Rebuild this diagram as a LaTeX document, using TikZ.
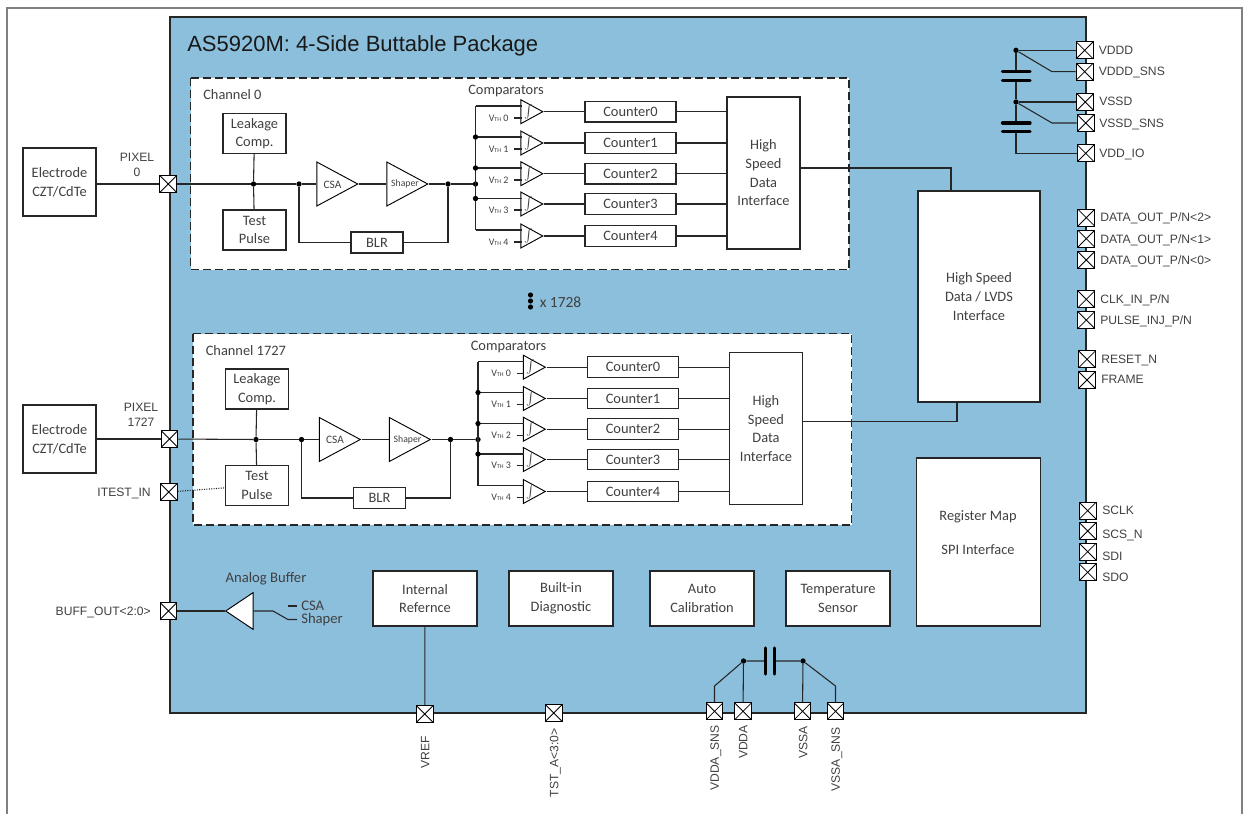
\documentclass[tikz,border=0pt]{standalone}
\usepackage{fontspec}
\usepackage{xcolor}
\setmainfont{Carlito}
\newfontfamily\arialfont{Liberation Sans}
\usetikzlibrary{positioning,calc,shapes.geometric}
\definecolor{ChipBlue}{HTML}{8BBFDC}
\definecolor{FrameGray}{HTML}{808080}
\definecolor{EdgeDark}{HTML}{262626}
\definecolor{LabelGray}{HTML}{404040}
\tikzset{
  wire/.style={EdgeDark,line width=0.8pt},
  whitebox/.style={draw=EdgeDark,fill=white,line width=0.85pt,align=center,inner sep=0pt,
        font=\fontsize{10.8}{14}\selectfont,text=LabelGray},
  padbox/.style={draw=black,fill=white,line width=0.85pt,minimum size=12.6pt,inner sep=0pt,
        path picture={\draw[line width=0.6pt] (path picture bounding box.north west) -- (path picture bounding box.south east)
        (path picture bounding box.north east) -- (path picture bounding box.south west);}},
  chanbox/.style={draw=EdgeDark,fill=white,dashed,dash pattern=on 6pt off 3pt,line width=0.85pt},
  ampshape/.style={isosceles triangle,isosceles triangle stretches,draw=black,fill=white,line width=0.7pt,
        inner sep=0pt,anchor=apex},
  jdot/.style={circle,fill=black,minimum size=4pt,inner sep=0pt},
  pinlabel/.style={font=\arialfont\fontsize{9.1}{11.3}\selectfont,text=LabelGray,inner sep=0pt,align=center},
  pinline/.style={font=\arialfont\fontsize{9.1}{11.3}\selectfont,text=LabelGray,inner sep=0pt,text height=6.5pt,text depth=0pt},
  blocktext/.style={font=\fontsize{10.8}{14}\selectfont,text=LabelGray,inner sep=0pt},
  buffertext/.style={font=\fontsize{11}{13}\selectfont,text=LabelGray,inner sep=0pt},
  platebar/.style={line width=2.4pt,line cap=round,black}
}
\newcommand{\vthtext}[1]{{\fontsize{7.5}{8}\selectfont V{\fontsize{4.5}{5}\selectfont TH} #1}}
\begin{document}
\begin{tikzpicture}[x=0.75pt,y=-0.75pt]
  \useasboundingbox (0,0) rectangle (1250,814);
  % outer frame and chip body
  \draw[FrameGray,line width=1.5pt] (7,814) -- (7,8) -- (1242,8) -- (1242,814);
  \draw[draw=EdgeDark,fill=ChipBlue,line width=0.9pt] (170,17) rectangle (1086,713);
  \node[font=\arialfont\fontsize{16.5}{18}\selectfont,text=black!90,anchor=west,inner sep=0pt] (title) at (187,45.5)
        {AS5920M: 4-Side Buttable Package};

  % the two channels
  \foreach \ch/\dx/\dy/\outy/\chname in {a/0/0/168/Channel 0,b/2.5/255.5/166/Channel 1727}{
    \begin{scope}[shift={(\dx,\dy)}]
      \draw[chanbox] (190.5,78) rectangle (849,269.5);
      \node[blocktext,anchor=west] (name\ch) at (203,95) {\chname};
      \node[whitebox,minimum width=47.25pt,minimum height=30pt] (leak\ch) at (254.5,133.5) {Leakage\\Comp.};
      \node[whitebox,minimum width=47.25pt,minimum height=30pt] (test\ch) at (254.5,230) {Test\\Pulse};
      \node[jdot] (jleak\ch) at (253.5,184) {};
      \node[jdot] (jblr\ch) at (299,184) {};
      \node[ampshape,minimum height=30.75pt,minimum width=33pt] (csa\ch) at (359,184) {};
      \node[blocktext,font=\fontsize{8.5}{10}\selectfont] (csatext\ch) at (332.5,184.5) {CSA};
      \node[ampshape,minimum height=30.75pt,minimum width=33pt] (shaper\ch) at (429,184) {};
      \node[blocktext,font=\fontsize{7.3}{9}\selectfont] (shapertext\ch) at (405,184) {Shaper};
      \node[jdot] (jout\ch) at (448,184) {};
      \node[jdot] (jbus\ch) at (475.5,184) {};
      \node[whitebox,minimum width=39pt,minimum height=15.75pt] (blr\ch) at (377,242.5) {BLR};
      \node[blocktext,anchor=west] (comp\ch) at (468,91) {Comparators};
      \node[whitebox,minimum width=54.75pt,minimum height=114pt] (hsdi\ch) at (763.5,173)
            {High\\Speed\\Data\\Interface};
      \coordinate (bustop\ch) at (475.5,106);
      \coordinate (busend\ch) at (475.5,230);
      \coordinate (hsout\ch) at (800,\outy);
      \draw[wire] (jleak\ch) -- (leak\ch);
      \draw[wire] (jleak\ch) -- (test\ch);
      \draw[wire] (jleak\ch) -- (jblr\ch) -- (csa\ch.lower side);
      \draw[wire] (csa\ch.apex) -- (shaper\ch.lower side);
      \draw[wire] (shaper\ch.apex) -- (jout\ch) -- (jbus\ch);
      \draw[wire] (jblr\ch) |- (blr\ch.west);
      \draw[wire] (blr\ch.east) -| (jout\ch);
      \draw[wire] (bustop\ch) -- (busend\ch);
      \foreach \i/\rowy/\ya/\yb in {0/111.7/106/118,1/143/137/149,2/173.7/168/180,3/204/198.5/210,4/236/230/242}{
        \coordinate (in\ch\i) at (521.5,\ya);
        \coordinate (ref\ch\i) at (521.5,\yb);
        \node[ampshape,minimum height=16.5pt,minimum width=18pt] (cmp\ch\i) at (544,\rowy) {};
        \node[blocktext,font=\fontsize{8.5}{10}\selectfont] (int\ch\i) at (528.5,\rowy) {$\int$};
        \node[blocktext,anchor=west] (vth\ch\i) at (488.5,\yb) {\vthtext{\i}};
        \node[whitebox,minimum width=68.25pt,minimum height=15.5pt] (cnt\ch\i) at (630.5,\rowy) {Counter\i};
        \draw[wire] (bustop\ch |- in\ch\i) -- (in\ch\i);
        \draw[wire] (514,\yb) -- (ref\ch\i);
        \draw[wire] (cmp\ch\i.apex) -- (cnt\ch\i);
        \draw[wire] (cnt\ch\i) -- (cnt\ch\i -| hsdi\ch.west);
      }
      \foreach \j in {1,2,3}{
        \node[jdot] (jcmp\ch\j) at (bustop\ch |- in\ch\j) {};
      }
    \end{scope}
  }
  % left side pins
  \node[whitebox,minimum width=54.75pt,minimum height=51pt] (elecA) at (59.5,182) {Electrode\\CZT/CdTe};
  \node[whitebox,minimum width=54.75pt,minimum height=51pt] (elecB) at (59.5,439) {Electrode\\CZT/CdTe};
  \node[padbox] (pixelA) at (168.3,184) {};
  \node[padbox] (pixelB) at (169.5,439) {};
  \node[padbox] (itest) at (168.7,492) {};
  \node[padbox] (buff) at (168.5,611) {};
  \node[pinlabel] (pixelAname) at (137,165) {PIXEL\\0};
  \node[pinlabel] (pixelBname) at (141,414.5) {PIXEL\\1727};
  \node[pinline,anchor=east] (itestname) at (151,492) {ITEST\_IN};
  \node[pinline,anchor=east] (buffname) at (151,611) {BUFF\_OUT<2:0>};
  \draw[wire] (elecA.east |- pixelA) -- (pixelA);
  \draw[wire] (pixelA) -- (jleaka);
  \draw[wire] (elecB.east |- pixelB) -- (pixelB);
  \draw[wire] (pixelB) -- (jleakb);
  \draw[wire,densely dotted] (itest) -- (testb);

  % analog buffer
  \node[ampshape,shape border rotate=180,anchor=apex,minimum height=20.5pt,minimum width=27.5pt] (abuf) at (224.5,611) {};
  \node[buffertext] (abufname) at (266,578.5) {Analog Buffer};
  \node[buffertext,anchor=west] (abufcsa) at (301,606) {CSA};
  \node[buffertext,anchor=west] (abufshaper) at (301,620) {Shaper};
  \coordinate (swpivot) at (273,611);
  \coordinate (swthrow) at (288,619.5);
  \coordinate (shaperstub) at (297,619.5);
  \coordinate (csatail) at (288,606);
  \coordinate (csastub) at (297,606);
  \draw[wire] (buff) -- (abuf.apex);
  \draw[wire] (abuf.lower side) -- (swpivot) -- (swthrow) -- (shaperstub);
  \draw[wire] (csatail) -- (csastub);

  % large blocks
  \node[whitebox,minimum width=91.5pt,minimum height=158.25pt] (lvds) at (979,296.5) {};
  \node[blocktext,align=center] (lvdstext) at (979,296.5) {High Speed\\Data / LVDS\\Interface};
  \node[whitebox,minimum width=92.5pt,minimum height=126pt] (regmap) at (978.5,542) {};
  \node[blocktext,align=center] (regmaptext) at (978,532.5) {Register Map\\[12pt]SPI Interface};
  \coordinate (lvdstop) at (951,191);
  \coordinate (lvdsbot) at (957,402);
  \draw[wire] (hsouta) -| (lvdstop);
  \draw[wire] (hsoutb) -| (lvdsbot);

  % x 1728 marker
  \node[jdot,minimum size=3.9pt] (morea) at (530.5,295) {};
  \node[jdot,minimum size=3.9pt] (moreb) at (530.5,301) {};
  \node[jdot,minimum size=3.9pt] (morec) at (530.5,307) {};
  \node[blocktext,anchor=west,font=\fontsize{11.6}{14}\selectfont] (moretext) at (539.5,302) {x 1728};

  % bottom row of blocks
  \node[whitebox,minimum width=78pt,minimum height=41.25pt] (intref) at (425,598.5) {Internal\\Refernce};
  \node[whitebox,minimum width=78pt,minimum height=41.25pt] (diag) at (561,598.5) {Built-in\\Diagnostic};
  \node[whitebox,minimum width=78pt,minimum height=41.25pt] (autocal) at (702,598.5) {Auto\\Calibration};
  \node[whitebox,minimum width=78pt,minimum height=41.25pt] (tempsense) at (838,598.5) {Temperature\\Sensor};

  % bottom pins
  \node[padbox] (vref) at (424.8,714) {};
  \node[padbox] (tst) at (553.8,713) {};
  \node[padbox] (vddasns) at (714.5,711.3) {};
  \node[padbox] (vdda) at (743,711.3) {};
  \node[padbox] (vssa) at (802.5,711.3) {};
  \node[padbox] (vssasns) at (835.5,711.3) {};
  \node[pinline,rotate=90,anchor=east] (vrefname) at (425,736) {VREF};
  \node[pinline,rotate=90,anchor=east] (tstname) at (554,728) {TST\_A<3:0>};
  \node[pinline,rotate=90,anchor=east] (vddasnsname) at (714.5,725) {VDDA\_SNS};
  \node[pinline,rotate=90,anchor=east] (vddaname) at (743,725) {VDDA};
  \node[pinline,rotate=90,anchor=east] (vssaname) at (803,726) {VSSA};
  \node[pinline,rotate=90,anchor=east] (vssasnsname) at (835.5,727) {VSSA\_SNS};
  \draw[wire] (intref) -- (vref);
  \node[jdot] (jvdda) at (743.5,661) {};
  \node[jdot] (jvssa) at (803,661) {};
  \coordinate (plateA) at (765.8,661);
  \coordinate (plateB) at (774.5,661);
  \coordinate (kneeA) at (714.5,686);
  \coordinate (kneeB) at (835.5,686);
  \draw[wire] (vdda) -- (jvdda) -- (plateA);
  \draw[wire] (plateB) -- (jvssa) -- (vssa);
  \draw[wire] (vddasns) -- (kneeA) -- (jvdda);
  \draw[wire] (vssasns) -- (kneeB) -- (jvssa);
  \draw[platebar] (765.8,648) -- (765.8,674);
  \draw[platebar] (774.5,648) -- (774.5,674);

  % power pins, right side
  \node[padbox] (vddd) at (1084.7,50.3) {};
  \node[padbox] (vdddsns) at (1084.7,71.7) {};
  \node[padbox] (vssd) at (1085.3,102) {};
  \node[padbox] (vssdsns) at (1085.7,123) {};
  \node[padbox] (vddio) at (1085.7,153.3) {};
  \node[pinline,anchor=west] (vdddname) at (1098.5,49.7) {VDDD};
  \node[pinline,anchor=west] (vdddsnsname) at (1098.5,70.7) {VDDD\_SNS};
  \node[pinline,anchor=west] (vssdname) at (1099,101) {VSSD};
  \node[pinline,anchor=west] (vssdsnsname) at (1099,122.7) {VSSD\_SNS};
  \node[pinline,anchor=west] (vddioname) at (1099,152.7) {VDD\_IO};
  \node[jdot] (jvddd) at (1016,50.3) {};
  \node[jdot] (jvssd) at (1016,102) {};
  \coordinate (plateC) at (1016,71.7);
  \coordinate (plateD) at (1016,80.3);
  \coordinate (plateE) at (1016,123);
  \coordinate (plateF) at (1016,131.7);
  \coordinate (kneeC) at (1052,71.7);
  \coordinate (kneeD) at (1052,123);
  \draw[wire] (jvddd) -- (vddd);
  \draw[wire] (jvddd) -- (plateC);
  \draw[wire] (jvddd) -- (kneeC) -- (vdddsns);
  \draw[wire] (plateD) -- (jvssd) -- (plateE);
  \draw[wire] (jvssd) -- (vssd);
  \draw[wire] (jvssd) -- (kneeD) -- (vssdsns);
  \draw[wire] (plateF) |- (vddio);
  \draw[platebar] (1002.5,71.7) -- (1030,71.7);
  \draw[platebar] (1002.5,80.3) -- (1030,80.3);
  \draw[platebar] (1002.5,123) -- (1030,123);
  \draw[platebar] (1002.5,131.7) -- (1030,131.7);

  % data and control pins, right side
  \foreach \pin/\px/\py/\tx/\ty/\pname in {
      dataa/1086.3/217.7/1100/217.3/{DATA\_OUT\_P/N<2>},
      datab/1086.3/238.7/1100/239.3/{DATA\_OUT\_P/N<1>},
      datac/1086.3/260/1100/260.3/{DATA\_OUT\_P/N<0>},
      clkin/1086.3/299.3/1100/299.3/{CLK\_IN\_P/N},
      pulseinj/1086.3/320/1100/320/{PULSE\_INJ\_P/N},
      reset/1087/359.3/1101/359/{RESET\_N},
      frame/1087/380/1101/379/{FRAME},
      sclk/1087.7/510.7/1102/510/{SCLK},
      scsn/1087.7/531/1102/534.3/{SCS\_N},
      sdi/1087.7/551.7/1102/555.7/{SDI},
      sdo/1087.7/572.3/1102/576.7/{SDO}}{
    \node[padbox] (\pin) at (\px,\py) {};
    \node[pinline,anchor=west] (\pin name) at (\tx,\ty) {\pname};
  }
\end{tikzpicture}
\end{document}
